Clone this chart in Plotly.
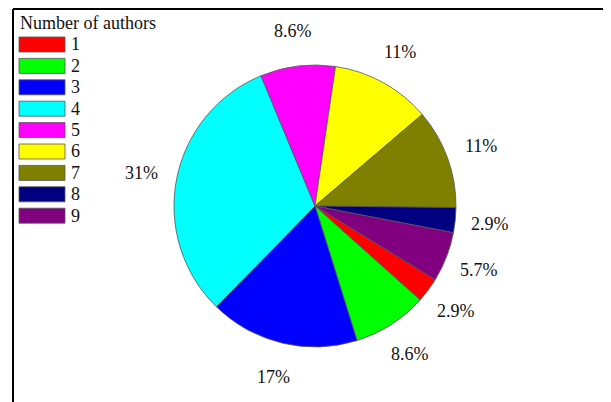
import math
import plotly.graph_objects as go

# Data (counts of papers per number of authors, total 35)
categories = ["1", "2", "3", "4", "5", "6", "7", "8", "9"]
counts = [1, 3, 6, 11, 3, 4, 4, 1, 2]
colors = ["#FF0000", "#00FF00", "#0000FF", "#00FFFF", "#FF00FF",
          "#FFFF00", "#808000", "#000080", "#800080"]
legend_title = "Number of authors"

# page has an 8px body margin; work in screen px and convert
OFF = 8
W, H = 611 - OFF, 402 - OFF
CX, CY, R = 315, 206, 141       # pie centre and radius (screen px)
ROT = 121.5                     # start angle (clockwise from 12 o'clock)
LABEL_K = 1.25                  # label distance as fraction of radius
FONT = "Liberation Serif, Times New Roman, serif"


def px_x(x):
    return (x - OFF) / W


def px_y(y):
    return 1 - (y - OFF) / H


total = sum(counts)
pct_text = [f"{100 * c / total:.2g}%" for c in counts]

fig = go.Figure(go.Pie(
    labels=categories,
    values=counts,
    sort=False,
    direction="clockwise",
    rotation=ROT,
    marker=dict(colors=colors, line=dict(color="#555555", width=0.8)),
    textinfo="none",
    hoverinfo="label+percent",
    showlegend=False,
    domain=dict(x=[px_x(CX - R), px_x(CX + R)],
                y=[px_y(CY + R), px_y(CY - R)]),
))

ann = []
shapes = []

# percentage labels placed radially outside each slice
cum = 0.0
for c, t in zip(counts, pct_text):
    mid = ROT + 360.0 * (cum + c / 2) / total
    cum += c
    a = math.radians(mid)
    sx = CX + LABEL_K * R * math.sin(a)
    sy = CY - LABEL_K * R * math.cos(a)
    ann.append(dict(x=px_x(sx), y=px_y(sy), xref="paper", yref="paper",
                    xanchor="center", yanchor="middle",
                    text=t, showarrow=False,
                    font=dict(family=FONT, size=18, color="#111111")))

# legend (title + wide colour boxes)
LX0, LX1, LH = 19, 65, 15
ROW0, ROWSTEP = 44.5, 21.4
ann.append(dict(x=px_x(LX0 - 1), y=px_y(23), xref="paper", yref="paper",
                xanchor="left", yanchor="middle", showarrow=False,
                text=legend_title,
                font=dict(family=FONT, size=18, color="#111111")))
for i, (lab, col) in enumerate(zip(categories, colors)):
    yc = ROW0 + i * ROWSTEP
    shapes.append(dict(type="rect", xref="paper", yref="paper",
                       x0=px_x(LX0), x1=px_x(LX1),
                       y0=px_y(yc + LH / 2), y1=px_y(yc - LH / 2),
                       fillcolor=col, line=dict(color="#555555", width=0.8)))
    ann.append(dict(x=px_x(LX1 + 4), y=px_y(yc), xref="paper", yref="paper",
                    xanchor="left", yanchor="middle", showarrow=False,
                    text=lab,
                    font=dict(family=FONT, size=18, color="#111111")))

# frame lines (top and left)
TOPY = OFF + 1
shapes.append(dict(type="line", xref="paper", yref="paper",
                   x0=px_x(13), x1=1, y0=px_y(TOPY), y1=px_y(TOPY),
                   line=dict(color="black", width=2)))
shapes.append(dict(type="line", xref="paper", yref="paper",
                   x0=px_x(13), x1=px_x(13), y0=0, y1=px_y(TOPY),
                   line=dict(color="black", width=2)))

fig.update_layout(
    width=W, height=H,
    margin=dict(l=0, r=0, t=0, b=0),
    paper_bgcolor="white",
    plot_bgcolor="white",
    font=dict(family=FONT, size=18, color="#111111"),
    annotations=ann,
    shapes=shapes,
    showlegend=False,
)

fig.write_html("out.html")
